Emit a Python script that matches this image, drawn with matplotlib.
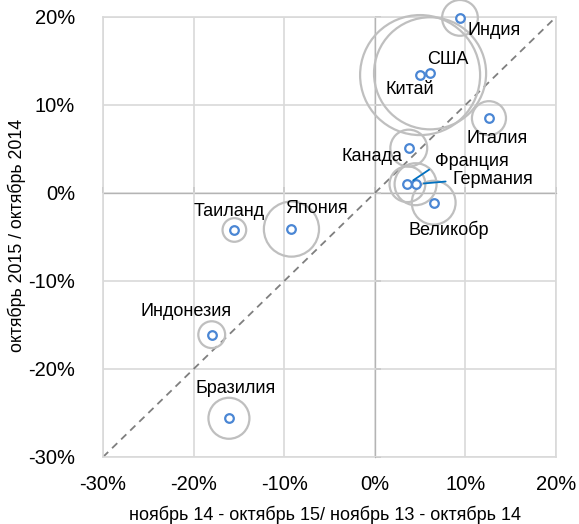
import matplotlib
matplotlib.use("Agg")
import matplotlib.pyplot as plt
from matplotlib.ticker import FuncFormatter, MultipleLocator

plt.rcParams['font.family'] = ['Liberation Sans', 'DejaVu Sans']

countries = ["Индия", "США", "Китай", "Италия", "Канада", "Франция",
             "Германия", "Великобр", "Таиланд", "Япония", "Индонезия", "Бразилия"]
x_vals = [9.4, 6.1, 5.0, 12.6, 3.75, 3.6, 4.5, 6.5, -15.5, -9.2, -18.0, -16.1]
y_vals = [19.9, 13.6, 13.4, 8.5, 5.1, 1.0, 1.0, -1.1, -4.2, -4.1, -16.1, -25.6]
bubble = [3.2, 31.4, 36.0, 2.9, 3.4, 3.2, 4.4, 4.8, 1.4, 7.6, 1.8, 4.2]

# label offsets in pixels (layout only)
label_pos = {
    "Индия": (8, -13, "left"),
    "США": (18, 14, "center"),
    "Китай": (-10, -14, "center"),
    "Италия": (8, -20, "center"),
    "Канада": (-6, -8, "right"),
    "Франция": (28, 23, "left"),
    "Германия": (37, 5, "left"),
    "Великобр": (15, -27, "center"),
    "Таиланд": (-5, 18, "center"),
    "Япония": (-6, 21, "left"),
    "Индонезия": (-26, 23, "center"),
    "Бразилия": (7, 30, "center"),
}
leader_style = {
    "Франция": dict(shrinkA=3, shrinkB=5, relpos=(0, 0.25)),
    "Германия": dict(shrinkA=3, shrinkB=6, relpos=(0, 0.4)),
}

fig = plt.figure(figsize=(5.79, 5.24), dpi=100)
ax = fig.add_axes([103/579, 1-457/524, (556-103)/579, (457-17)/524])

ax.set_xlim(-30, 20)
ax.set_ylim(-30, 20)
ax.xaxis.set_major_locator(MultipleLocator(10))
ax.yaxis.set_major_locator(MultipleLocator(10))
fmt = FuncFormatter(lambda v, p: f"{v:.0f}%")
ax.xaxis.set_major_formatter(fmt)
ax.yaxis.set_major_formatter(fmt)
ax.tick_params(length=0, labelsize=14.5, pad=13, colors='black')
ax.tick_params(axis='y', pad=20)
ax.grid(True, color='#D9D9D9', lw=1.2, zorder=0)
ax.set_axisbelow(True)
for s in ax.spines.values():
    s.set_color('#D9D9D9')
    s.set_linewidth(1.2)

# zero axes with tick marks
sx = ax.secondary_xaxis(0.6)
sx.xaxis.set_major_locator(MultipleLocator(10))
sx.tick_params(direction='out', length=4, width=1.3, color='#868686', labelbottom=False, labeltop=False)
sx.spines['bottom'].set_color('#868686')
sx.spines['bottom'].set_linewidth(1.6)
sy = ax.secondary_yaxis(0.6)
sy.yaxis.set_major_locator(MultipleLocator(10))
sy.tick_params(direction='out', length=4, width=1.3, color='#868686', labelleft=False, labelright=False)
sy.spines['left'].set_color('#868686')
sy.spines['left'].set_linewidth(1.6)

# diagonal
ax.plot([-30, 20], [-30, 20], ls=(0, (4, 3)), color='#7F7F7F', lw=1.3, zorder=2)

# bubbles
ax.scatter(x_vals, y_vals, s=[b * 207.4 for b in bubble], facecolors='none',
           edgecolors='#BFBFBF', linewidths=1.6, zorder=3, clip_on=False)
# markers
ax.plot(x_vals, y_vals, 'o', ms=6.2, mfc='white', mec='#4A86D4', mew=1.6,
        ls='none', zorder=4, clip_on=False)

for name, xv, yv in zip(countries, x_vals, y_vals):
    dx, dy, ha = label_pos[name]
    kw = {}
    if name in leader_style:
        kw['arrowprops'] = dict(arrowstyle='-', color='#0070C0', lw=1.3, **leader_style[name])
    ax.annotate(name, xy=(xv, yv), xytext=(dx, dy), textcoords='offset pixels',
                ha=ha, va='center', fontsize=13, zorder=5, **kw)

fig.text(325/579, 1-515/524, "ноябрь 14 - октябрь 15/ ноябрь 13 - октябрь 14",
         ha='center', va='center', fontsize=13)
fig.text(17/579, 1-235/524, "октябрь 2015 / октябрь 2014", rotation=90,
         ha='center', va='center', fontsize=12.8)

fig.savefig("out.png", dpi=100)
